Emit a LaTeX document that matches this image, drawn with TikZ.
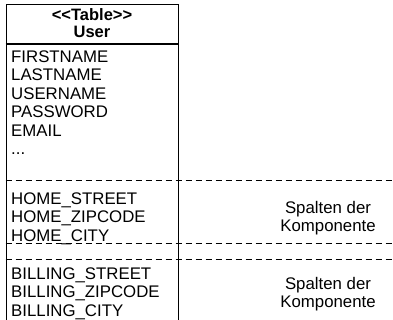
\documentclass[tikz,border=0pt]{standalone}
\usepackage{fontspec}
\setmainfont{Liberation Sans}
\usetikzlibrary{positioning}

\begin{document}
\begin{tikzpicture}[
  x=1pt, y=-1pt,
  font=\fontsize{16.8}{18.5}\selectfont,
  tablebox/.style={draw, line width=1.2pt, anchor=north west, minimum width=172.5pt, minimum height=360pt, inner sep=0pt},
  header/.style={font=\fontsize{16.5}{17}\selectfont\bfseries, align=center, inner sep=0pt},
  cols/.style={anchor=north west, align=left, inner sep=0pt},
  note/.style={align=center, inner sep=0pt},
  sep/.style={line width=1.2pt},
  compsep/.style={line width=1pt, dash pattern=on 6pt off 4pt},
]
\useasboundingbox (0,0) rectangle (393,320);
\clip (0,0) rectangle (393,320);

% ====== TABLE ======
\node[tablebox] (user) at (5.5,4) {};
\node[header, anchor=north] (title) at (92,8) {{<}{<}Table{>}{>}\\User};

% header line
\coordinate (hdr) at (0,44);
\draw[sep] (user.west |- hdr) -- (user.east |- hdr);

% own columns
\node[cols] (own) at (11,50.5) {FIRSTNAME\\LASTNAME\\USERNAME\\PASSWORD\\EMAIL\\...};

% ====== COMPONENT COLUMNS ======
\coordinate (edge) at (393,0);
\coordinate (homesep) at (0,181);
\coordinate (gapsep) at (0,243);
\coordinate (billsep) at (0,259);
\draw[compsep] (user.west |- homesep) -- (edge |- homesep);
\draw[compsep] (user.west |- gapsep) -- (edge |- gapsep);
\draw[compsep] (user.west |- billsep) -- (edge |- billsep);

% home address
\node[cols] (home) at (11,192.5) {HOME\_STREET\\HOME\_ZIPCODE\\HOME\_CITY};
\node[note] (homenote) at (328,218) {Spalten der\\Komponente};

% billing address
\node[cols] (billing) at (11,267.5) {BILLING\_STREET\\BILLING\_ZIPCODE\\BILLING\_CITY};
\node[note] (billnote) at (328,294) {Spalten der\\Komponente};

\end{tikzpicture}
\end{document}
